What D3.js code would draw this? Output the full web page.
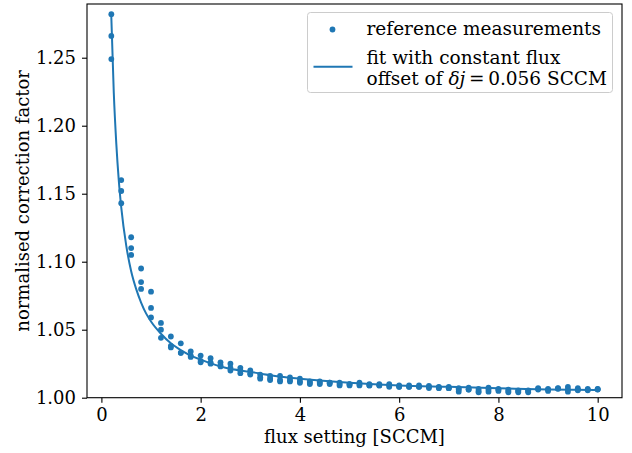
<!DOCTYPE html>
<html>
<head>
<meta charset="utf-8">
<script src="https://cdn.jsdelivr.net/npm/d3@7"></script>
<style>
body { margin: 0; background: #fff; }
text { font-family: "DejaVu Serif", serif; fill: #000; }
</style>
</head>
<body>
<div id="chart"></div>
<script>
// flux settings, each measured a few times
var fluxSettings = [0.2, 0.4, 0.6, 0.8, 1.0, 1.2, 1.4, 1.6, 1.8, 2.0, 2.2, 2.4, 2.6, 2.8, 3.0,
    3.2, 3.4, 3.6, 3.8, 4.0, 4.2, 4.4, 4.6, 4.8, 5.0, 5.2, 5.4, 5.6, 5.8, 6.0, 6.2, 6.4, 6.6,
    6.8, 7.0, 7.2, 7.4, 7.6, 7.8, 8.0, 8.2, 8.4, 8.6, 8.8, 9.0, 9.2, 9.4, 9.6, 9.8, 10.0];
var measuredFactors = [
    [1.282, 1.266, 1.249], [1.160, 1.152, 1.143], [1.118, 1.110, 1.105], [1.095, 1.085, 1.080],
    [1.078, 1.066, 1.059], [1.055, 1.050, 1.044], [1.045, 1.038, 1.037], [1.040, 1.033, 1.033],
    [1.034, 1.031, 1.030], [1.031, 1.027, 1.026], [1.029, 1.026, 1.025], [1.026, 1.024, 1.023],
    [1.025, 1.022, 1.020], [1.022, 1.020, 1.018], [1.020, 1.018, 1.017], [1.017, 1.015, 1.014],
    [1.016, 1.014, 1.013], [1.016, 1.013, 1.012], [1.015, 1.013, 1.012], [1.014, 1.012, 1.011],
    [1.012, 1.011, 1.010], [1.012, 1.011, 1.010], [1.011, 1.011, 1.010], [1.011, 1.010, 1.009],
    [1.010, 1.010, 1.009], [1.011, 1.010, 1.009], [1.010, 1.009, 1.009], [1.010, 1.009, 1.009],
    [1.010, 1.009, 1.008], [1.009, 1.008, 1.008], [1.009, 1.008, 1.008], [1.009, 1.008, 1.008],
    [1.0086, 1.008, 1.0071], [1.008, 1.0075, 1.007], [1.008, 1.007, 1.007], [1.007, 1.006, 1.0044],
    [1.0074, 1.006, 1.006], [1.0064, 1.005, 1.004], [1.0074, 1.006, 1.0044], [1.0064, 1.006, 1.005],
    [1.006, 1.005, 1.004], [1.0054, 1.005, 1.004], [1.0054, 1.005, 1.004], [1.007, 1.0065, 1.006],
    [1.0064, 1.006, 1.005], [1.007, 1.0068, 1.0065], [1.0079, 1.006, 1.0044], [1.007, 1.006, 1.0054],
    [1.0064, 1.006, 1.0054], [1.0064, 1.0062, 1.006]
];

// fitted curve
var fitFlux = [0.2, 0.25, 0.3, 0.35, 0.4, 0.5, 0.6, 0.7, 0.8, 0.9, 1.0, 1.2, 1.4, 1.6, 1.8,
    2.0, 2.5, 3.0, 3.5, 4.0, 5.0, 6.0, 7.0, 8.0, 9.0, 10.0];
var fitFactor = [1.280, 1.224, 1.187, 1.160, 1.140, 1.112, 1.093, 1.080, 1.070, 1.062, 1.056,
    1.047, 1.040, 1.035, 1.031, 1.028, 1.022, 1.019, 1.016, 1.014, 1.011, 1.009, 1.008, 1.007,
    1.006, 1.0056];

var xTicks = [0, 2, 4, 6, 8, 10];
var yTicks = [1.00, 1.05, 1.10, 1.15, 1.20, 1.25];

var blue = "#1f77b4";
var W = 632, H = 453;
var mLeft = 87, mRight = 622, mTop = 4, mBottom = 397.7;
var fs = 18, legendFs = 18.5;

var svg = d3.select("#chart").append("svg").attr("width", W).attr("height", H);

var x = d3.scaleLinear().domain([-0.29, 10.49]).range([mLeft, mRight]);
var y = d3.scaleLinear().domain([1.0, 1.2895]).range([mBottom, mTop]);

// fit line
var fitData = fitFlux.map(function(f, i) { return [f, fitFactor[i]]; });
var line = d3.line().x(function(d) { return x(d[0]); }).y(function(d) { return y(d[1]); })
    .curve(d3.curveMonotoneX);

var plot = svg.append("g");
plot.append("path").datum(fitData).attr("d", line)
    .attr("fill", "none").attr("stroke", blue).attr("stroke-width", 2);

// measurements
var points = [];
fluxSettings.forEach(function(f, i) {
    measuredFactors[i].forEach(function(v) { points.push([f, v]); });
});
plot.selectAll("circle.pt").data(points).enter().append("circle")
    .attr("class", "pt")
    .attr("cx", function(d) { return x(d[0]); })
    .attr("cy", function(d) { return y(d[1]); })
    .attr("r", 2.9).attr("fill", blue);

// axes
var xAxis = d3.axisBottom(x).tickValues(xTicks).tickSize(5).tickPadding(6).tickFormat(d3.format("d"));
var yAxis = d3.axisLeft(y).tickValues(yTicks).tickSize(5).tickPadding(6).tickFormat(d3.format(".2f"));

var gx = svg.append("g").attr("transform", "translate(0," + mBottom + ")").call(xAxis);
var gy = svg.append("g").attr("transform", "translate(" + mLeft + ",0)").call(yAxis);
[gx, gy].forEach(function(g) {
    g.select(".domain").remove();
    g.selectAll("line").attr("stroke", "#000").attr("stroke-width", 1.1);
    g.selectAll("text").attr("font-family", "DejaVu Serif").attr("font-size", fs).attr("fill", "#000");
});

// frame
svg.append("rect").attr("x", mLeft).attr("y", mTop).attr("width", mRight - mLeft).attr("height", mBottom - mTop)
    .attr("fill", "none").attr("stroke", "#000").attr("stroke-width", 1.1);

// axis labels
svg.append("text").attr("x", (mLeft + mRight) / 2).attr("y", 443).attr("text-anchor", "middle")
    .attr("font-size", fs).text("flux setting [SCCM]");
svg.append("text").attr("transform", "translate(29," + (mTop + mBottom) / 2 + ") rotate(-90)")
    .attr("text-anchor", "middle").attr("font-size", fs).text("normalised correction factor");

// legend
var lg = svg.append("g");
lg.append("rect").attr("x", 307.5).attr("y", 12.5).attr("width", 305).attr("height", 80).attr("rx", 3)
    .attr("fill", "#fff").attr("fill-opacity", 0.8).attr("stroke", "#cccccc").attr("stroke-width", 1);
lg.append("circle").attr("cx", 332.5).attr("cy", 29.5).attr("r", 2.9).attr("fill", blue);
lg.append("text").attr("x", 366.5).attr("y", 34.5).attr("font-size", legendFs).text("reference measurements");
lg.append("line").attr("x1", 313.5).attr("x2", 352.5).attr("y1", 66.7).attr("y2", 66.7)
    .attr("stroke", blue).attr("stroke-width", 2);
lg.append("text").attr("x", 366.5).attr("y", 63.5).attr("font-size", legendFs).text("fit with constant flux");
var t2 = lg.append("text").attr("x", 366.5).attr("y", 84.5).attr("font-size", legendFs);
t2.append("tspan").text("offset of ");
t2.append("tspan").attr("font-style", "italic").text("δj");
t2.append("tspan").text("\u2009=\u20090.056 SCCM");
</script>
</body>
</html>
